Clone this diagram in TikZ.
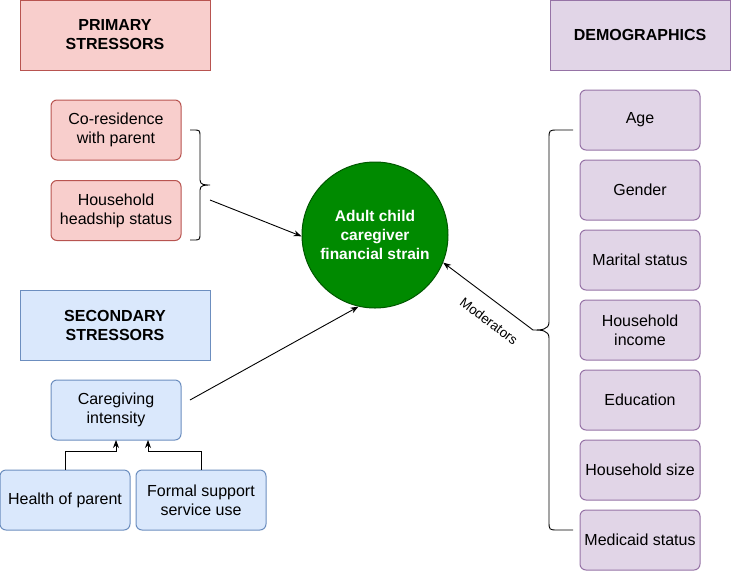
\documentclass[tikz,border=0pt]{standalone}
\usepackage{fontspec}
\setmainfont{Liberation Sans}
\usetikzlibrary{arrows.meta}
\definecolor{redfill}{HTML}{F8CECC}
\definecolor{redline}{HTML}{B85450}
\definecolor{bluefill}{HTML}{DAE8FC}
\definecolor{blueline}{HTML}{6C8EBF}
\definecolor{purpfill}{HTML}{E1D5E7}
\definecolor{purpline}{HTML}{9673A6}
\definecolor{greenfill}{HTML}{008A00}
\definecolor{greenline}{HTML}{005700}
\begin{document}
\begin{tikzpicture}[x=1pt,y=-1pt,line width=1pt,
  txt/.style={font=\fontsize{16}{19}\selectfont, align=center, inner sep=0pt},
  hdr/.style={txt, font=\fontsize{16}{19}\selectfont\bfseries},
  redhdr/.style={hdr, draw=redline, fill=redfill, minimum width=190pt, minimum height=70pt},
  bluehdr/.style={hdr, draw=blueline, fill=bluefill, minimum width=190pt, minimum height=70pt},
  purphdr/.style={hdr, draw=purpline, fill=purpfill, minimum width=180pt, minimum height=70pt},
  redbox/.style={txt, draw=redline, fill=redfill, rounded corners=6pt, minimum width=130pt, minimum height=60pt},
  bluebox/.style={txt, draw=blueline, fill=bluefill, rounded corners=6pt, minimum width=130pt, minimum height=60pt},
  purpbox/.style={txt, draw=purpline, fill=purpfill, rounded corners=6pt, minimum width=120pt, minimum height=60pt},
  arr/.style={-{Stealth[length=8pt,width=6pt]}, line width=0.9pt},
  brc/.style={line width=0.9pt}
]
\useasboundingbox (0,0) rectangle (731,571);

% headers
\node[redhdr] (prim) at (115,35) {PRIMARY\\STRESSORS};
\node[bluehdr] (sec) at (115,325) {SECONDARY\\STRESSORS};
\node[purphdr] (demo) at (640,35) {DEMOGRAPHICS};

% primary stressors
\node[redbox] (cores) at (116,130) {Co-residence\\with parent};
\node[redbox] (head) at (116,210.5) {Household\\headship status};

% secondary stressors
\node[bluebox] (care) at (116,410) {Caregiving\\intensity};
\node[bluebox] (health) at (65,500) {Health of parent};
\node[bluebox] (formal) at (201,500) {Formal support\\service use};

% demographics
\node[purpbox] (age) at (640,120) {Age};
\node[purpbox] (gender) at (640,190) {Gender};
\node[purpbox] (marital) at (640,260) {Marital status};
\node[purpbox] (income) at (640,330) {Household\\income};
\node[purpbox] (edu) at (640,400) {Education};
\node[purpbox] (hsize) at (640,470) {Household size};
\node[purpbox] (medic) at (640,540) {Medicaid status};

% outcome
\node[circle, draw=greenline, fill=greenfill, minimum size=146pt, inner sep=0pt,
  text=white, font=\fontsize{15.5}{19}\selectfont\bfseries, align=center]
  (circ) at (375,235) {Adult child\\caregiver\\financial strain};

% left brace
\draw[brc] (190,130) -- (193,130) .. controls (200,130) .. (200,137) -- (200,180)
  .. controls (200,185) and (205,185) .. (210,185)
  .. controls (205,185) and (200,185) .. (200,190) -- (200,233)
  .. controls (200,240) .. (193,240) -- (190,240);
\coordinate (lbr) at (210,200);
\draw[arr] (lbr) -- (circ.181);

% right brace
\draw[brc] (573,130) -- (558,130) .. controls (549,130) .. (549,139) -- (549,322)
  .. controls (549,330) and (541,330) .. (533,330)
  .. controls (541,330) and (549,330) .. (549,338) -- (549,521)
  .. controls (549,530) .. (558,530) -- (573,530);
\coordinate (rbr) at (533,330);
\draw[arr] (rbr) -- (circ.338);
\node[font=\fontsize{13.5}{15}\selectfont, rotate=-37, inner sep=0pt] (modlab) at (489,321) {Moderators};

% caregiving intensity to outcome
\coordinate (cstart) at (190,400);
\draw[arr] (cstart) -- (circ.257);

% elbow connectors
\draw[arr] (health.north) -- (65,451) -- (116,451) -- (116,440);
\draw[arr] (formal.north) -- (201,451) -- (148,451) -- (148,440);
\end{tikzpicture}
\end{document}
